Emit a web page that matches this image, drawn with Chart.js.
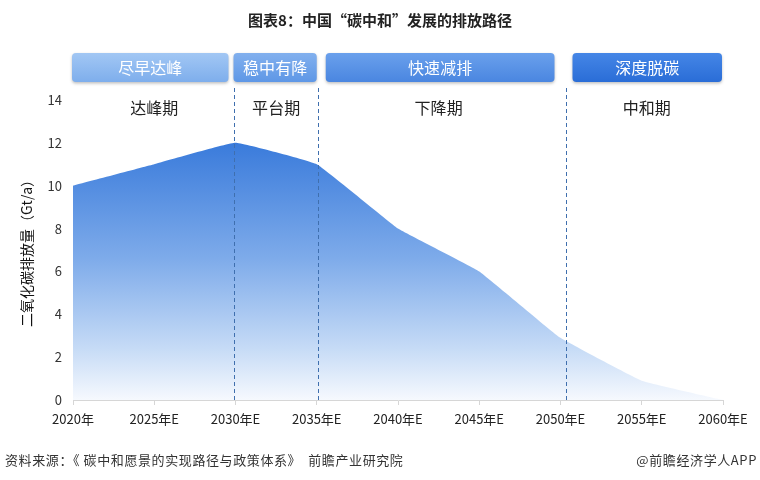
<!DOCTYPE html>
<html>
<head>
<meta charset="utf-8">
<script src="https://cdn.jsdelivr.net/npm/chart.js@4"></script>
<style>
  html, body { margin: 0; padding: 0; background: #fff; }
  #wrap { position: relative; width: 760px; height: 480px; }
  canvas { display: block; }
</style>
</head>
<body>
<div id="wrap"><canvas id="chart" width="760" height="480"></canvas></div>
<script>
// ======================================
// DATA
// ======================================
const years = ["2020年", "2025年E", "2030年E", "2035年E", "2040年E", "2045年E", "2050年E", "2055年E", "2060年E"];
const emissions = [10, 11, 12, 11, 8, 6, 2.9, 0.9, 0];

// phases: [start index, end index]
const phaseRanges = [[0, 2], [2, 3], [3, 6], [6, 8]];
const phaseNames = ["达峰期", "平台期", "下降期", "中和期"];
const stageNames = ["尽早达峰", "稳中有降", "快速减排", "深度脱碳"];
const stageColors = [["#a2c7f4", "#7eaeec"], ["#82b0ee", "#5e97e6"], ["#6aa0ec", "#4a86e0"], ["#4586e6", "#2a6dd7"]];
const dividerIdx = [2, 3, 6];

const FONT = "'Noto Sans CJK SC', 'Noto Sans', sans-serif";

// small visual nudges (px) to line up with the original drawing
const boxInsetL = [-1, -2, 9, 12];
const boxInsetR = [7, 0, 6, 1];
const dividerNudge = [-1, 2, 6];

// ======================================
// PLUGIN: title, stage boxes, phase labels, dividers, footer
// ======================================
function roundRect(ctx, x, y, w, h, r) {
    ctx.beginPath();
    ctx.moveTo(x + r, y);
    ctx.lineTo(x + w - r, y);
    ctx.quadraticCurveTo(x + w, y, x + w, y + r);
    ctx.lineTo(x + w, y + h - r);
    ctx.quadraticCurveTo(x + w, y + h, x + w - r, y + h);
    ctx.lineTo(x + r, y + h);
    ctx.quadraticCurveTo(x, y + h, x, y + h - r);
    ctx.lineTo(x, y + r);
    ctx.quadraticCurveTo(x, y, x + r, y);
    ctx.closePath();
}

const decorPlugin = {
    id: "decor",
    afterDatasetsDraw(chart) {
        const ctx = chart.ctx;
        const x = chart.scales.x;
        const area = chart.chartArea;

        // dashed dividers (drawn over the area)
        ctx.save();
        ctx.strokeStyle = "#3f6fae";
        ctx.lineWidth = 1;
        ctx.setLineDash([4, 3]);
        dividerIdx.forEach((i, k) => {
            const px = Math.round(x.getPixelForValue(i)) + dividerNudge[k] - 0.5;
            ctx.beginPath();
            ctx.moveTo(px, 88);
            ctx.lineTo(px, area.bottom);
            ctx.stroke();
        });
        ctx.restore();
    },
    afterDraw(chart) {
        const ctx = chart.ctx;
        const x = chart.scales.x;

        ctx.save();
        // title
        ctx.fillStyle = "#222";
        ctx.font = "bold 15px " + FONT;
        ctx.textAlign = "center";
        ctx.textBaseline = "middle";
        ctx.fillText("图表8：中国“碳中和”发展的排放路径", 380, 20);

        // stage boxes
        phaseRanges.forEach((r, i) => {
            const x0 = x.getPixelForValue(r[0]) + boxInsetL[i];
            const x1 = x.getPixelForValue(r[1]) - boxInsetR[i];
            const top = 53, h = 29;
            ctx.save();
            ctx.shadowColor = "rgba(0,0,0,0.25)";
            ctx.shadowBlur = 3;
            ctx.shadowOffsetY = 1.5;
            const g = ctx.createLinearGradient(0, top, 0, top + h);
            g.addColorStop(0, stageColors[i][0]);
            g.addColorStop(1, stageColors[i][1]);
            ctx.fillStyle = g;
            roundRect(ctx, x0, top, x1 - x0, h, 4);
            ctx.fill();
            ctx.restore();
            ctx.fillStyle = "#fff";
            ctx.font = "16px " + FONT;
            ctx.fillText(stageNames[i], (x0 + x1) / 2, top + h / 2);
        });

        // phase labels
        ctx.fillStyle = "#222";
        ctx.font = "16px " + FONT;
        phaseRanges.forEach((r, i) => {
            const cx = (x.getPixelForValue(r[0]) + x.getPixelForValue(r[1])) / 2;
            ctx.fillText(phaseNames[i], cx + (i === 3 ? 5 : 0), 108);
        });

        // footer
        ctx.font = "13px " + FONT;
        ctx.fillStyle = "#333";
        ctx.textAlign = "left";
        ctx.letterSpacing = "0.6px";
        ctx.fillText("资料来源：《 碳中和愿景的实现路径与政策体系》  前瞻产业研究院", 5, 460);
        ctx.textAlign = "right";
        ctx.fillText("@前瞻经济学人APP", 757, 460);
        ctx.restore();
    }
};

// ======================================
// CHART
// ======================================
const ctx = document.getElementById("chart").getContext("2d");

new Chart(ctx, {
    type: "line",
    data: {
        labels: years,
        datasets: [{
            data: emissions,
            fill: "origin",
            borderWidth: 0,
            borderColor: "rgba(0,0,0,0)",
            pointRadius: 0,
            tension: 0.08,
            backgroundColor: (c) => {
                const area = c.chart.chartArea;
                if (!area) return "#5a93e3";
                const top = c.chart.scales.y.getPixelForValue(12);
                const g = c.chart.ctx.createLinearGradient(0, top, 0, area.bottom);
                g.addColorStop(0, "#3a7bdb");
                g.addColorStop(0.45, "#7eabea");
                g.addColorStop(0.8, "#c6dbf6");
                g.addColorStop(1, "#f6f9fe");
                return g;
            }
        }]
    },
    options: {
        responsive: false,
        animation: false,
        layout: { padding: { top: 100, left: 18, right: 37, bottom: 45 } },
        plugins: {
            legend: { display: false },
            tooltip: { enabled: false }
        },
        scales: {
            x: {
                offset: false,
                grid: { drawOnChartArea: false, drawTicks: true, tickLength: 5, color: "#d6d6d6" },
                border: { color: "#d6d6d6" },
                ticks: {
                    color: "#222",
                    font: { size: 13, family: FONT },
                    maxRotation: 0,
                    autoSkip: false,
                    padding: 6
                },
                afterFit: (s) => { s.height = 35; }
            },
            y: {
                min: 0,
                max: 14,
                grid: { display: false, drawTicks: false },
                border: { display: false },
                ticks: {
                    stepSize: 2,
                    color: "#333",
                    font: { size: 13, family: FONT },
                    padding: 11
                },
                title: {
                    display: true,
                    text: "二氧化碳排放量（Gt/a）",
                    color: "#111",
                    font: { size: 14, family: FONT },
                    padding: 0
                },
                afterFit: (s) => { s.width = 55; }
            }
        }
    },
    plugins: [decorPlugin]
});
</script>
</body>
</html>
